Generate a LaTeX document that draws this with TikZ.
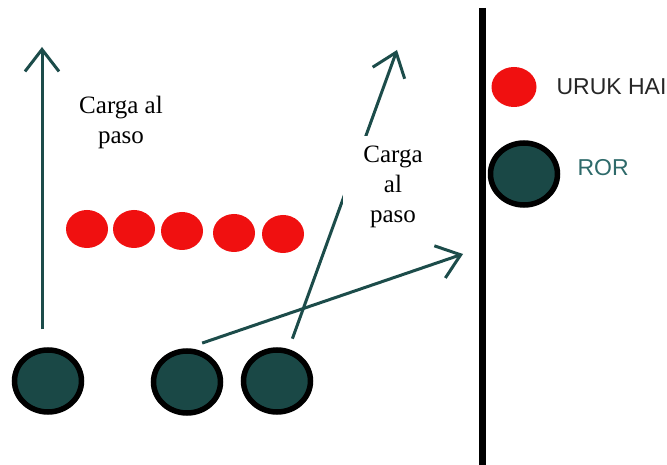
\documentclass[tikz,border=0pt]{standalone}
\usepackage{fontspec}
\setmainfont{Liberation Serif}
\newfontfamily\legendfont{Liberation Sans}
\usetikzlibrary{arrows.meta,shapes.geometric}
\definecolor{teal1}{HTML}{1A4846}
\definecolor{tealline}{HTML}{1C4C4A}
\definecolor{rortext}{HTML}{2E6A6A}
\definecolor{ukred}{HTML}{F01010}
\begin{document}
\begin{tikzpicture}[x=1pt,y=-1pt,
  ror/.style={ellipse,draw=black,line width=5.5pt,fill=teal1,minimum width=67pt,minimum height=62pt,inner sep=0pt},
  uruk/.style={ellipse,fill=ukred,minimum width=42pt,minimum height=38pt,inner sep=0pt},
  mov/.style={draw=tealline,line width=3pt,-{Straight Barb[length=22pt,width=34pt,line width=3pt]}},
  lbl/.style={font=\fontsize{25}{30}\selectfont,align=center,text=black},
  leg/.style={font=\legendfont\fontsize{23}{27}\selectfont,anchor=west}]
\useasboundingbox[fill=white] (0,0) rectangle (667,465);
% boundary line
\coordinate (btop) at (482,8);
\coordinate (bbot) at (482,465);
\draw[line width=7pt,black] (btop) -- (bbot);
% uruk hai row
\node[uruk] (u1) at (87,229) {};
\node[uruk] (u2) at (134,229) {};
\node[uruk] (u3) at (182,231) {};
\node[uruk] (u4) at (234,233) {};
\node[uruk] (u5) at (283,234) {};
% rohirrim
\node[ror] (c1) at (48,381) {};
\node[ror] (c2) at (187,382) {};
\node[ror] (c3) at (277,381) {};
% arrow tips
\coordinate (t1) at (42,47);
\coordinate (t2) at (463,254);
\coordinate (t3) at (397,50);
\draw[mov,shorten <=18pt] (c1.north -| t1) -- (t1);
\draw[mov,shorten <=16pt] (c2.north) -- (t2);
\draw[mov,shorten <=11pt] (c3.70) -- (t3);
% labels
\node[lbl] (l1) at (121,122) {Carga al\\paso};
\node[lbl,fill=white,inner xsep=20pt,inner ysep=10pt] (l2) at (393,187) {Carga\\al\\paso};
% legend
\node[uruk,minimum width=45pt,minimum height=40pt] (lu) at (514,87) {};
\node[leg,text=black!85] (lut) at (553,87) {URUK HAI};
\node[ror] (lr) at (524,174) {};
\node[leg,text=rortext] (lrt) at (574,168) {ROR};
\end{tikzpicture}
\end{document}
